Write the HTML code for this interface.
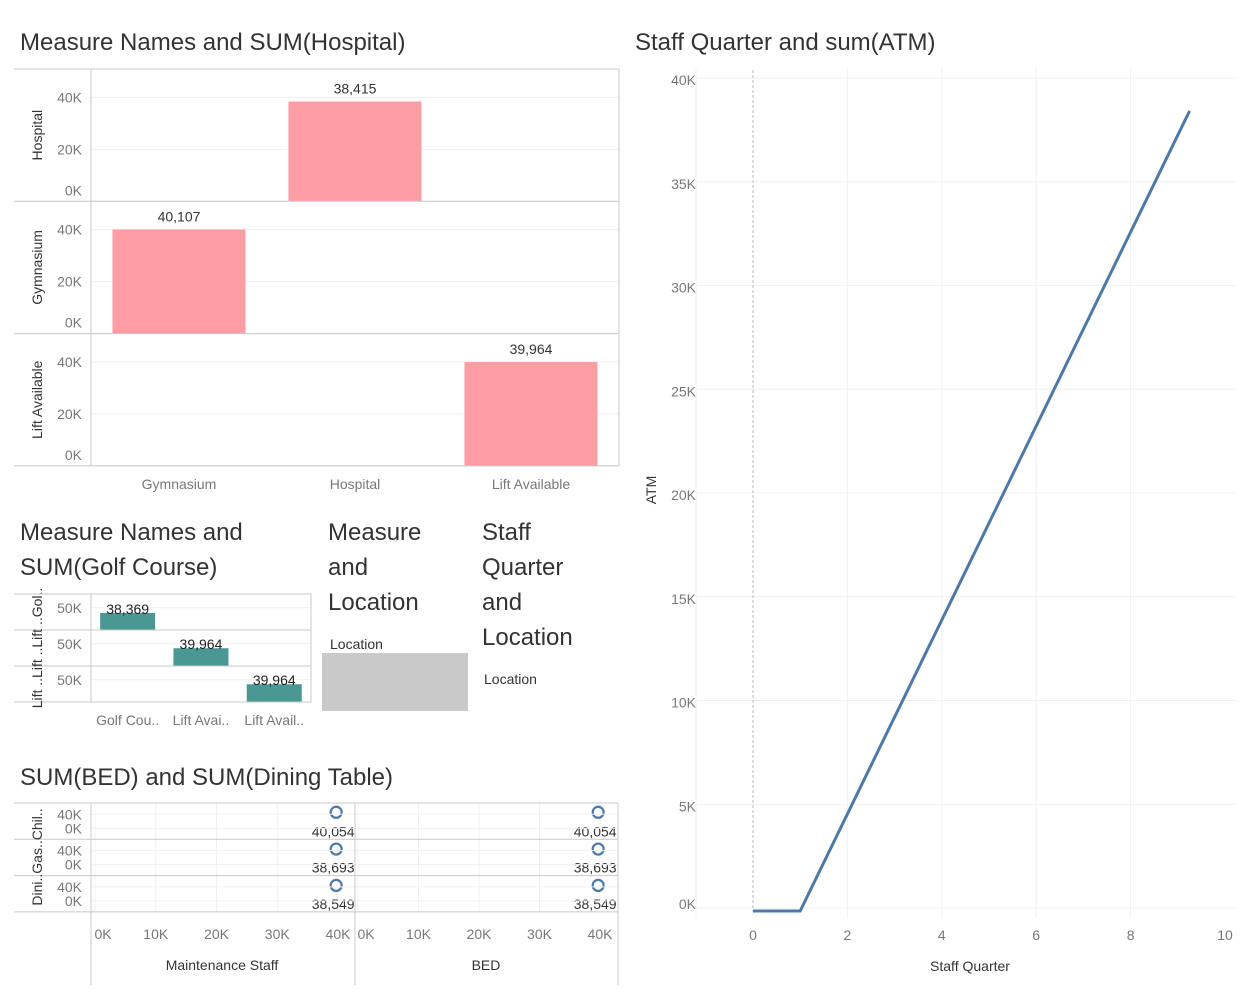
<!DOCTYPE html>
<html><head><meta charset="utf-8"><style>
body{margin:0;background:#fff;width:1249px;height:999px;overflow:hidden;font-family:"Liberation Sans",sans-serif}
svg text{font-family:"Liberation Sans",sans-serif}
</style></head><body>
<svg id="s" width="1249" height="999" xmlns="http://www.w3.org/2000/svg">
<g font-size="24" fill="#333" font-weight="300">
<text x="20" y="50">Measure Names and SUM(Hospital)</text>
<text x="635" y="50">Staff Quarter and sum(ATM)</text>
<text x="20" y="540">Measure Names and</text>
<text x="20" y="575">SUM(Golf Course)</text>
<text x="328" y="540">Measure</text>
<text x="328" y="575">and</text>
<text x="328" y="610">Location</text>
<text x="482" y="540">Staff</text>
<text x="482" y="575">Quarter</text>
<text x="482" y="610">and</text>
<text x="482" y="645">Location</text>
<text x="20" y="785">SUM(BED) and SUM(Dining Table)</text>
</g>
<text x="330" y="649" font-size="14" fill="#333">Location</text>
<rect x="322" y="653" width="146" height="58" fill="#c9c9c9"/>
<text x="484" y="684" font-size="14" fill="#333">Location</text>
<g id="g1"></g><g id="g2"></g><g id="g3"></g><g id="g4"></g>
</svg>
<script>
// Chart 1: hospital
const c1Cats=["Gymnasium","Hospital","Lift Available"];
const c1Rows=["Hospital","Gymnasium","Lift Available"];
const c1Vals=[[null,38415,null],[40107,null,null],[null,null,39964]];
const c1Labels=["38,415","40,107","39,964"];
const c1Ticks=[0,20000,40000];
// Chart 2: golf
const c2Cats=["Golf Cou..","Lift Avai..","Lift Avail.."];
const c2Rows=["Gol..","Lift ..Lift ..","Lift .."];
const c2Vals=[38369,39964,39964];
const c2Labels=["38,369","39,964","39,964"];
// Chart 3: scatter
const c3Rows=["Chil..","Gas..","Dini.."];
const c3Panels=["Maintenance Staff","BED"];
const c3X=[[39700,39700,39700],[39700,39700,39700]];
const c3Y=[40054,38693,38549];
const c3Labels=["40,054","38,693","38,549"];
const c3XTicks=[0,10000,20000,30000,40000];
// Chart 4: line
const c4X=[0,1,9.25];
const c4Y=[0,0,38415];
const c4XTicks=[0,2,4,6,8,10];
const c4YTicks=[0,5000,10000,15000,20000,25000,30000,35000,40000];

const NS="http://www.w3.org/2000/svg";
function mk(p,t,a,txt){const e=document.createElementNS(NS,t);for(const k in a)e.setAttribute(k,a[k]);if(txt!=null)e.textContent=txt;p.appendChild(e);return e;}
const fmtK=v=>(v/1000)+"K";

// chart 1
{const g=document.getElementById('g1');
const x0=91,cw=176,top=69,rh=132.3;
const yS=v=>v*132/50800;
c1Rows.forEach((r,i)=>{const y0=top+rh*(i+1);
 c1Ticks.forEach(t=>{const y=y0-yS(t);
  const l=mk(g,'line',{x1:x0,x2:619,y1:y,y2:y,stroke:'#f0f0f0'});
  
  const tx=mk(g,'text',{x:82,y:(t==0?y0-6:y+5),'font-size':14,fill:'#777','text-anchor':'end'},fmtK(t));
  });
 const rl=mk(g,'text',{x:42,y:top+rh*i+rh/2,'font-size':14,fill:'#333','text-anchor':'middle',transform:`rotate(-90 42 ${top+rh*i+rh/2})`},r);
 
 c1Vals[i].forEach((v,j)=>{if(v==null)return;const cx=x0+cw*j+cw/2;
  const b=mk(g,'rect',{x:cx-66.5,y:y0-yS(v),width:133,height:yS(v),fill:'#ff9da7'});
  
  const lb=mk(g,'text',{x:cx,y:y0-yS(v)-8,'font-size':14,fill:'#333','text-anchor':'middle'},c1Labels[i]);
  });
 const sep=mk(g,'line',{x1:14,x2:619,y1:y0,y2:y0,stroke:'#c8c8c8'});
 });
mk(g,'line',{x1:14,x2:619,y1:top,y2:top,stroke:'#c8c8c8'});
mk(g,'line',{x1:x0,x2:x0,y1:top,y2:466,stroke:'#c8c8c8'});
mk(g,'line',{x1:619,x2:619,y1:top,y2:466,stroke:'#c8c8c8'});
c1Cats.forEach((c,j)=>{const t=mk(g,'text',{x:x0+cw*j+cw/2,y:489,'font-size':14,fill:'#777','text-anchor':'middle'},c);
 });}

// chart 2
{const g=document.getElementById('g2');
const x0=91,cw=73.3,top=594,rh=36;
const yS=v=>v*36/81000;
c2Rows.forEach((r,i)=>{const y0=top+rh*(i+1);
 mk(g,'line',{x1:x0,x2:311,y1:y0-yS(50000),y2:y0-yS(50000),stroke:'#f0f0f0'});
 const tx=mk(g,'text',{x:82,y:y0-yS(50000)+5,'font-size':14,fill:'#777','text-anchor':'end'},'50K');
 
 const v=c2Vals[i],cx=x0+cw*i+cw/2;
 const b=mk(g,'rect',{x:cx-27.5,y:y0-yS(v),width:55,height:yS(v),fill:'#499894'});
 
 const lb=mk(g,'text',{x:cx,y:y0-yS(v)+1,'font-size':14,fill:'#222','text-anchor':'middle'},c2Labels[i]);
 
 mk(g,'line',{x1:14,x2:311,y1:y0,y2:y0,stroke:'#c8c8c8'});});
const rl=mk(g,'text',{x:42,y:648,'font-size':14,fill:'#333','text-anchor':'middle',transform:'rotate(-90 42 648)'},'Lift ..Lift ..Lift ..Gol..');

mk(g,'line',{x1:14,x2:311,y1:top,y2:top,stroke:'#c8c8c8'});
mk(g,'line',{x1:x0,x2:x0,y1:top,y2:702,stroke:'#c8c8c8'});
mk(g,'line',{x1:311,x2:311,y1:top,y2:702,stroke:'#c8c8c8'});
c2Cats.forEach((c,j)=>{const t=mk(g,'text',{x:x0+cw*j+cw/2,y:725,'font-size':14,fill:'#777','text-anchor':'middle'},c);
 });}

// chart 3
{const g=document.getElementById('g3');
const top=803,rh=36.3,px=[[95,338],[358,600]],titleX=[222,486];
const yS=v=>v*14/40000;
c3Panels.forEach((p,k)=>{const xs=v=>px[k][0]+(px[k][1]-px[k][0])*v/40000;
 c3XTicks.forEach(t=>{const x=xs(t);mk(g,'line',{x1:x,x2:x,y1:top,y2:912,stroke:'#f0f0f0'});
  const tx=mk(g,'text',{x:t==0?x+8:x,y:939,'font-size':14,fill:'#777','text-anchor':'middle'},fmtK(t));
  });
 const tl=mk(g,'text',{x:titleX[k],y:970,'font-size':14,fill:'#333','text-anchor':'middle'},p);
 
 c3Y.forEach((v,i)=>{const y0=top+rh*(i+1)-13;
  const c=mk(g,'circle',{cx:xs(c3X[k][i]),cy:y0-yS(v),r:5.5,fill:'none',stroke:'#4e79a7','stroke-width':2.2});
  
  const lb=mk(g,'text',{x:xs(c3X[k][i])-3,y:top+rh*(i+1)-3,'font-size':14,fill:'#333','text-anchor':'middle'},c3Labels[i]);
  });});
c3Rows.forEach((r,i)=>{const y0=top+rh*(i+1)-11;
 [[40000,'40K'],[0,'0K']].forEach(([v,s])=>{const t=mk(g,'text',{x:82,y:y0-yS(v)+5,'font-size':14,fill:'#777','text-anchor':'end'},s);
  
  mk(g,'line',{x1:91,x2:618,y1:y0-yS(v),y2:y0-yS(v),stroke:'#f0f0f0'});});
 mk(g,'line',{x1:14,x2:618,y1:top+rh*(i+1),y2:top+rh*(i+1),stroke:'#c8c8c8'});});
mk(g,'line',{x1:14,x2:618,y1:top,y2:top,stroke:'#c8c8c8'});
[91,355,618].forEach(x=>mk(g,'line',{x1:x,x2:x,y1:top,y2:985,stroke:'#c8c8c8'}));
const rl=mk(g,'text',{x:42,y:857,'font-size':14,fill:'#333','text-anchor':'middle',transform:'rotate(-90 42 857)'},'Dini..Gas..Chil..');
}

// chart 4
{const g=document.getElementById('g4');
const xs=v=>753+v*47.2,ys=v=>908-v*0.02075;
c4YTicks.forEach(t=>{const y=ys(t);mk(g,'line',{x1:696,x2:1235,y1:y,y2:y,stroke:'#f0f0f0'});
 const tx=mk(g,'text',{x:696,y:y+(t==0?1:7),'font-size':14,fill:'#777','text-anchor':'end'},fmtK(t));
 });
c4XTicks.forEach(t=>{const x=xs(t);
 if(t>0&&t<10)mk(g,'line',{x1:x,x2:x,y1:68,y2:918,stroke:'#f0f0f0'});
 const tx=mk(g,'text',{x:x,y:940,'font-size':14,fill:'#777','text-anchor':'middle'},String(t));
 });
mk(g,'line',{x1:696,x2:696,y1:68,y2:918,stroke:'#f0f0f0'});
mk(g,'line',{x1:753,x2:753,y1:70,y2:912,stroke:'#bbb','stroke-dasharray':'3,2'});
const pl=mk(g,'polyline',{points:c4X.map((x,i)=>xs(x)+','+(ys(c4Y[i])+3*(c4Y[i]==0))).join(' '),fill:'none',stroke:'#4e79a7','stroke-width':3});

const yt=mk(g,'text',{x:656,y:490,'font-size':14,fill:'#333','text-anchor':'middle',transform:'rotate(-90 656 490)'},'ATM');

const xt=mk(g,'text',{x:970,y:971,'font-size':14,fill:'#333','text-anchor':'middle'},'Staff Quarter');
}
</script>
</body></html>
